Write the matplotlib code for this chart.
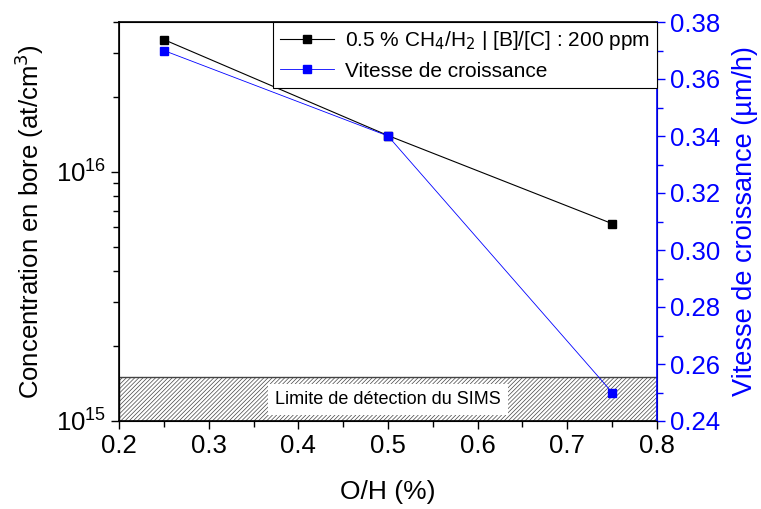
import numpy as np
import matplotlib.pyplot as plt
from matplotlib.patches import Rectangle

plt.rcParams['font.family'] = ['Liberation Sans', 'DejaVu Sans']
plt.rcParams['hatch.linewidth'] = 0.5

oh = [0.25, 0.5, 0.75]
bore = [3.4e16, 1.4e16, 6.2e15]
vitesse = [0.37, 0.34, 0.25]
limite_sims = 1.5e15

fig = plt.figure(figsize=(7.61, 5.09), dpi=100)
ax = fig.add_axes([119 / 761, 1 - 421 / 509, (657 - 119) / 761, (421 - 22) / 509])
ax2 = ax.twinx()

# zone sous la limite de détection
ax.add_patch(Rectangle((0.2, 1e15), 0.6, limite_sims - 1e15, facecolor='white',
                       edgecolor='#444444', hatch='////////', lw=1.0, zorder=1))
ax.text(0.5, 1.22e15, "Limite de détection du SIMS", ha='center', va='center',
        fontsize=13, bbox=dict(facecolor='white', edgecolor='none', pad=5), zorder=2)

l1, = ax.plot(oh, bore, color='black', lw=0.8, marker='s', ms=6, zorder=5,
              label=r'0.5 % CH$_4$/H$_2$ | [B]/[C] : 200 ppm')
l2, = ax2.plot(oh, vitesse, color='blue', lw=0.6, marker='s', ms=6, zorder=5,
               label='Vitesse de croissance')

ax.set_yscale('log')
ax.set_xlim(0.2, 0.8)
ax.set_ylim(1e15, 4e16)
ax2.set_ylim(0.24, 0.38)

ax.set_xticks([0.2, 0.3, 0.4, 0.5, 0.6, 0.7, 0.8])
ax.set_xticks(np.arange(0.25, 0.8, 0.1), minor=True)
ax2.set_yticks(np.arange(0.24, 0.381, 0.02))
ax2.set_yticks(np.arange(0.25, 0.38, 0.02), minor=True)
ax2.yaxis.set_major_formatter(plt.FormatStrFormatter('%.2f'))

ax.tick_params(which='both', direction='out', labelsize=18.5, top=False)
ax.tick_params(which='major', length=6, width=1)
ax.tick_params(which='minor', length=4, width=1)
ax2.tick_params(which='both', direction='out', colors='blue', labelsize=18.5)
ax2.tick_params(which='major', length=6, width=1)
ax2.tick_params(which='minor', length=4, width=1)
ax2.spines['right'].set_color('blue')
for s in ['left', 'bottom', 'top']:
    ax.spines[s].set_linewidth(1.2)
ax2.spines['right'].set_linewidth(1.2)

ax.set_xlabel('O/H (%)', fontsize=19, labelpad=16)
ax.set_ylabel('Concentration en bore (at/cm$^3$)', fontsize=18.5, labelpad=7)
ax2.set_ylabel('Vitesse de croissance (µm/h)', fontsize=19.5, color='blue', labelpad=8)

leg = ax2.legend(handles=[l1, l2], loc='upper right', fontsize=15, fancybox=False,
                 edgecolor='black', framealpha=1, borderaxespad=0.0, handlelength=2.6,
                 handletextpad=0.5, borderpad=0.35, labelspacing=0.45)
leg.get_frame().set_linewidth(0.8)

fig.savefig('out.png', dpi=100)
